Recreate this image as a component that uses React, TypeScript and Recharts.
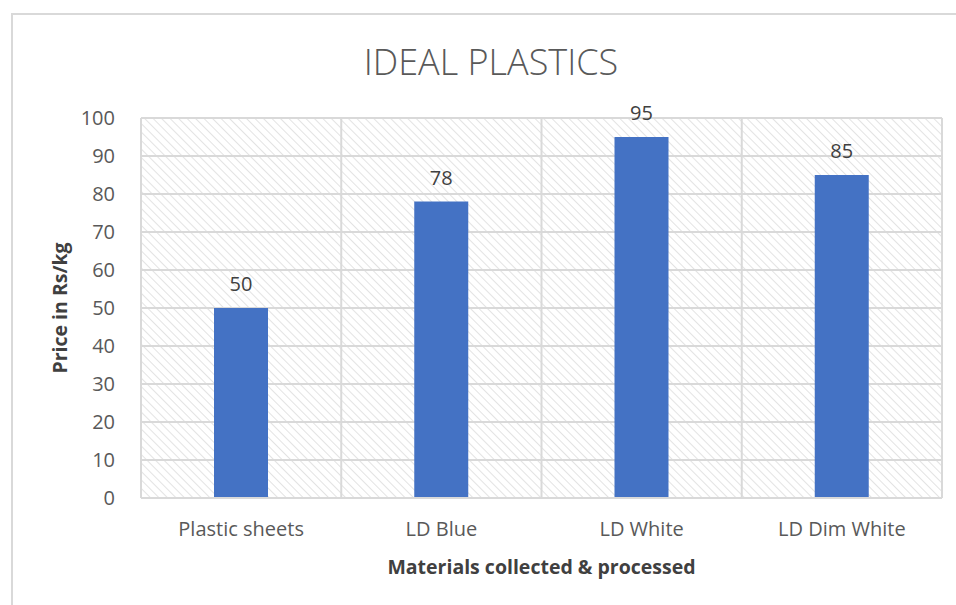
import React from 'react';
import {
  BarChart,
  Bar,
  XAxis,
  YAxis,
  CartesianGrid,
  LabelList,
} from 'recharts';

const categories = ['Plastic sheets', 'LD Blue', 'LD White', 'LD Dim White'];
const prices = [50, 78, 95, 85];
const yTicks = [0, 10, 20, 30, 40, 50, 60, 70, 80, 90, 100];

const data = categories.map((name, i) => ({ name, price: prices[i] }));

const FONT = '"Open Sans", "Noto Sans", sans-serif';

// vertical lines sit on category boundaries, like Excel's
const boundaryLines = ({ offset }: any) =>
  categories.map((_, i) => offset.left + (offset.width * i) / categories.length)
    .concat([offset.left + offset.width]);

export default function App() {
  return (
    <div
      style={{
        position: 'absolute',
        left: 0,
        top: 0,
        width: 956,
        height: 605,
        background: '#fff',
        fontFamily: FONT,
      }}
    >
      <div
        style={{
          position: 'absolute',
          left: 11,
          top: 13,
          right: 0,
          bottom: 0,
          borderLeft: '2px solid #d9d9d9',
          borderTop: '2px solid #d9d9d9',
        }}
      />
      <div
        style={{
          position: 'absolute',
          left: 0,
          width: 982,
          top: 37,
          textAlign: 'center',
          fontSize: 36,
          fontWeight: 300,
          color: '#595959',
          letterSpacing: 0,
        }}
      >
        IDEAL PLASTICS
      </div>
      <BarChart
        width={956}
        height={605}
        data={data}
        margin={{ top: 118, right: 14, left: 0, bottom: 77 }}
        style={{ position: 'absolute', left: 0, top: 0 }}
      >
        <defs>
          <pattern
            id="hatch"
            width="6"
            height="6"
            patternUnits="userSpaceOnUse"
            patternTransform="rotate(-45)"
          >
            <rect width="6" height="6" fill="#ffffff" />
            <line x1="0" y1="0" x2="0" y2="6" stroke="#dcdcdc" strokeWidth="1.6" />
          </pattern>
        </defs>
        <CartesianGrid
          fill="url(#hatch)"
          fillOpacity={1}
          stroke="#d9d9d9"
          strokeWidth={2}
          verticalCoordinatesGenerator={boundaryLines}
        />
        <XAxis
          dataKey="name"
          height={30}
          axisLine={{ stroke: '#d9d9d9', strokeWidth: 2 }}
          tickLine={false}
          tick={{ fill: '#595959', fontSize: 20, fontFamily: FONT }}
          tickMargin={18}
          label={{
            value: 'Materials collected & processed',
            position: 'bottom',
            offset: 32,
            fill: '#404040',
            fontSize: 19.5,
            fontWeight: 700,
            fontFamily: FONT,
          }}
        />
        <YAxis
          domain={[0, 100]}
          ticks={yTicks}
          interval={0}
          width={141}
          axisLine={false}
          tickLine={false}
          tick={{ fill: '#595959', fontSize: 20, fontFamily: FONT }}
          tickMargin={20}
          label={{
            value: 'Price in Rs/kg',
            angle: -90,
            position: 'insideLeft',
            offset: 60,
            fill: '#404040',
            fontSize: 19.5,
            fontWeight: 700,
            fontFamily: FONT,
            style: { textAnchor: 'middle' },
          }}
        />
        <Bar dataKey="price" fill="#4472c4" barSize={54} isAnimationActive={false}>
          <LabelList
            dataKey="price"
            position="top"
            offset={17}
            fill="#404040"
            fontSize={20}
            fontFamily={FONT}
          />
        </Bar>
      </BarChart>
    </div>
  );
}
